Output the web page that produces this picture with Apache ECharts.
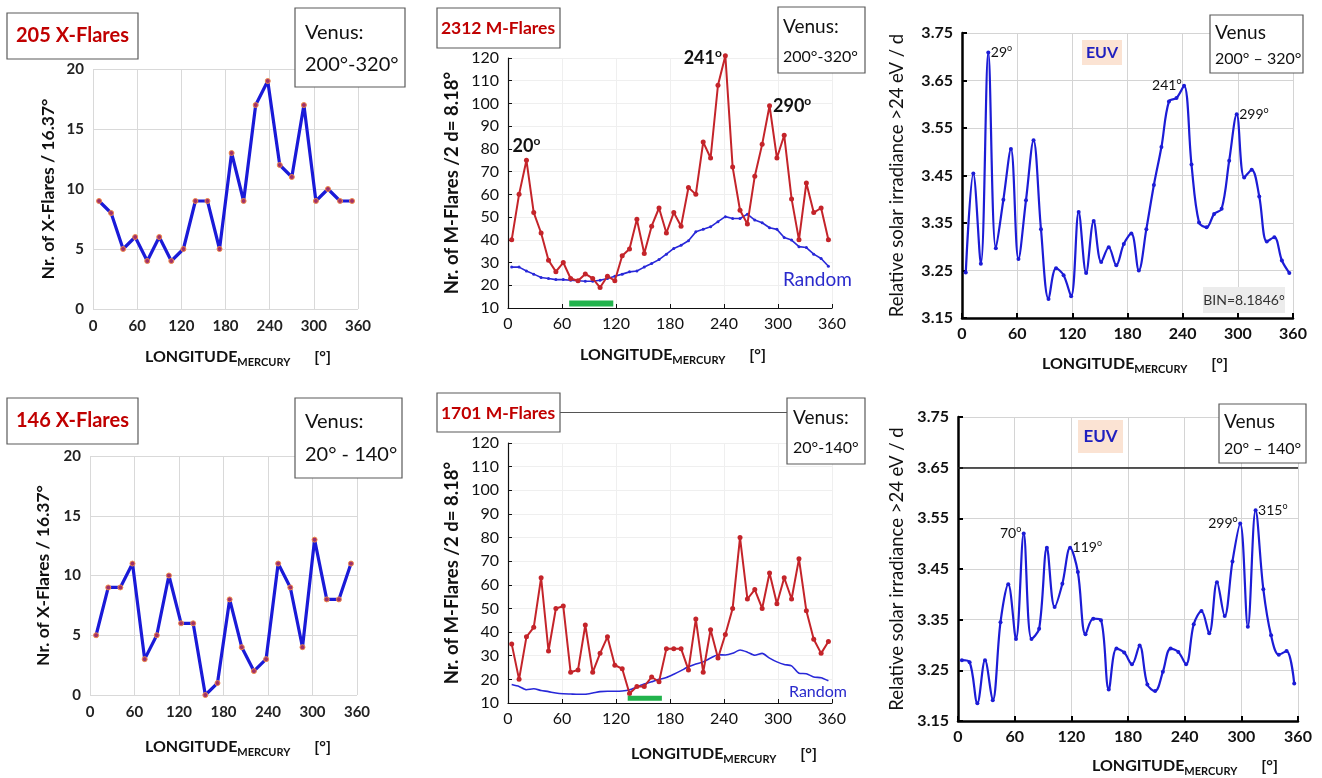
<!DOCTYPE html>
<html>
<head>
<meta charset="utf-8">
<title>Flares and EUV vs Mercury longitude</title>
<script src="https://cdn.jsdelivr.net/npm/echarts@6/dist/echarts.min.js"></script>
<style>
  html, body { margin: 0; padding: 0; background: #fff; }
  #chart { width: 1322px; height: 778px; }
</style>
</head>
<body>
<div id="chart"></div>
<script>
// bin centres (degrees of Mercury longitude)
const lonX = [8.2, 24.6, 40.9, 57.3, 73.7, 90.0, 106.4, 122.8, 139.1, 155.5, 171.9,
  188.3, 204.6, 221.0, 237.4, 253.7, 270.1, 286.5, 302.8, 319.2, 335.6, 351.9];
const lonM = [4.1, 12.3, 20.5, 28.6, 36.8, 45.0, 53.2, 61.4, 69.6, 77.8, 85.9,
  94.1, 102.3, 110.5, 118.7, 126.9, 135.0, 143.2, 151.4, 159.6, 167.8, 176.0,
  184.2, 192.3, 200.5, 208.7, 216.9, 225.1, 233.3, 241.5, 249.6, 257.8, 266.0,
  274.2, 282.4, 290.6, 298.8, 306.9, 315.1, 323.3, 331.5, 339.7, 347.9, 356.0];

// X-flares, Venus 200-320 (top) and 20-140 (bottom)
const xFlaresTop = [9, 8, 5, 6, 4, 6, 4, 5, 9, 9, 5, 13, 9, 17, 19, 12, 11, 17, 9, 10, 9, 9];
const xFlaresBottom = [5, 9, 9, 11, 3, 5, 10, 6, 6, 0, 1, 8, 4, 2, 3, 11, 9, 4, 13, 8, 8, 11];

// M-flares and random expectation
const mFlaresTop = [40, 60, 75, 52, 43, 31, 26, 30, 23, 22, 25, 23, 19, 24, 22, 33, 36, 49, 34, 46, 54, 43,
  52, 46, 63, 60, 83, 76, 108, 121, 72, 53, 47, 68, 82, 99, 76, 86, 58, 40, 65, 52, 54, 40];
const randomTop = [28, 28, 26.3, 24.9, 23.4, 23, 22.5, 22.5, 22.2, 22, 21.8, 21.8, 22.2, 23, 24, 24.9,
  25.9, 26.3, 28, 29.6, 31.3, 33.7, 36.2, 37.6, 39.6, 43.5, 44.6, 45.7, 48, 50.2, 49.4, 49.4, 51.3,
  48.7, 47.5, 45.3, 44.6, 41, 39.9, 37, 36.6, 33.7, 31.8, 28.4];
const mFlaresBottom = [35, 20, 38, 42, 63, 32, 50, 51, 23, 24, 43, 23, 31, 38, 26, 24.5, 14, 17, 17, 21, 19, 33,
  33, 33, 24, 45.5, 23, 41, 29, 39, 50, 80, 54, 58, 50, 65, 52, 63, 54, 71, 49, 37, 31, 36];
const randomBottom = [17.8, 17, 15.6, 16, 15.3, 14.8, 14.2, 13.9, 13.8, 13.7, 13.7, 14.2, 14.8, 15, 15,
  15.1, 15.6, 16.8, 18, 19, 20, 20.8, 22.2, 23.7, 25.3, 26.5, 27.4, 29, 30.4, 30.3, 31, 32.4, 31.5,
  30.2, 31, 29, 27.4, 26.3, 25.7, 22.6, 22.4, 21, 20.7, 19.4];
// green bars (longitude range, level)
const greenTop = [68, 117];
const greenBottom = [133, 171];
const greenLevel = 12;

// EUV irradiance
const euvTop = [3.246, 3.454, 3.264, 3.709, 3.297, 3.399, 3.506, 3.274, 3.398, 3.524, 3.337, 3.19,
  3.255, 3.24, 3.196, 3.373, 3.245, 3.354, 3.268, 3.299, 3.261, 3.306, 3.328, 3.25, 3.337, 3.43,
  3.51, 3.606, 3.613, 3.639, 3.473, 3.351, 3.341, 3.369, 3.38, 3.481, 3.579, 3.446, 3.462, 3.406,
  3.311, 3.32, 3.271, 3.245];
const euvBottom = [3.27, 3.266, 3.185, 3.27, 3.191, 3.345, 3.42, 3.312, 3.52, 3.312, 3.332, 3.492,
  3.375, 3.421, 3.492, 3.444, 3.321, 3.352, 3.349, 3.212, 3.293, 3.285, 3.262, 3.299, 3.222, 3.209,
  3.247, 3.293, 3.286, 3.262, 3.341, 3.367, 3.323, 3.424, 3.357, 3.465, 3.54, 3.336, 3.566, 3.41,
  3.319, 3.281, 3.288, 3.224];

// peak annotations: index into lonM, label text
const mTopPeaks = [[2, '20'], [29, '241'], [35, '290']];
const euvTopPeaks = [[3, '29'], [29, '241'], [36, '299']];
const euvBottomPeaks = [[8, '70'], [14, '119'], [36, '299'], [38, '315']];

const FONT = 'Lato';
const pair = (xs, ys) => xs.map((x, i) => [x, ys[i]]);

const grids = [
  { left: 93, top: 69, width: 265, height: 240 },
  { left: 508, top: 58, width: 324, height: 250 },
  { left: 962, top: 33, width: 331, height: 285 },
  { left: 90, top: 456, width: 267, height: 239 },
  { left: 508, top: 443, width: 324, height: 260 },
  { left: 958, top: 417, width: 340, height: 304 }
].map(g => Object.assign({ outerBoundsMode: 'none', containLabel: false }, g));

const styles = {
  excel: {
    axisLine: { show: false }, axisTick: { show: false },
    splitLine: { show: true, lineStyle: { color: '#d9d9d9', width: 1 } },
    axisLabel: { color: '#222', fontFamily: FONT, fontWeight: 'bold', fontSize: 15 }
  },
  mflare: {
    axisLine: { show: true, lineStyle: { color: '#111', width: 1.2 } },
    axisTick: { show: true, inside: true, length: 4, lineStyle: { color: '#111' } },
    splitLine: { show: true, lineStyle: { color: '#efefef', width: 1 } },
    axisLabel: { color: '#111', fontFamily: FONT, fontSize: 16 }
  },
  euv: {
    axisLine: { show: true, lineStyle: { color: '#000', width: 2.5 } },
    axisTick: { show: true, inside: true, length: 5, lineStyle: { color: '#000', width: 2 } },
    splitLine: { show: true, lineStyle: { color: '#d4d4d4', width: 1 } },
    axisLabel: { color: '#111', fontFamily: FONT, fontWeight: 'bold', fontSize: 16 }
  }
};

function xAxis(gi, st, margin) {
  const s = styles[st];
  return {
    type: 'value', gridIndex: gi, min: 0, max: 360, interval: 60,
    axisLine: s.axisLine, axisTick: s.axisTick, splitLine: s.splitLine,
    axisLabel: Object.assign({ margin: margin }, s.axisLabel)
  };
}
function yAxis(gi, st, min, max, interval, name, gap, nameStyle, fmt) {
  const s = styles[st];
  return {
    type: 'value', gridIndex: gi, min: min, max: max, interval: interval,
    axisLine: s.axisLine, axisTick: s.axisTick, splitLine: s.splitLine,
    axisLabel: Object.assign({ margin: 9, formatter: fmt }, s.axisLabel),
    name: name, nameLocation: 'middle', nameGap: gap,
    nameTextStyle: Object.assign({ color: '#111', fontFamily: FONT }, nameStyle)
  };
}

const supRich = (size, weight) => ({
  n: { fontSize: size, fontWeight: weight, fontFamily: FONT, color: '#111', lineHeight: size + 4 },
  s: { fontSize: Math.round(size * 0.65), fontWeight: weight, fontFamily: FONT, color: '#111',
       lineHeight: Math.round(size * 0.65), verticalAlign: 'top' }
});

// label anchor is kept inside the axis range (yMax) so the marker is not filtered out
function peakMarks(peaks, ys, positions, size, weight, dist, yMax) {
  return {
    symbol: 'circle', symbolSize: 1, silent: true,
    itemStyle: { color: 'rgba(0,0,0,0)' },
    data: peaks.map((p, k) => ({
      coord: [lonM[p[0]], Math.min(ys[p[0]], yMax)],
      label: {
        show: true, position: positions[k], distance: dist,
        formatter: '{n|' + p[1] + '}{s|o}', rich: supRich(size, weight)
      }
    }))
  };
}

const series = [
  // top-left X-flares
  { type: 'line', xAxisIndex: 0, yAxisIndex: 0, data: pair(lonX, xFlaresTop),
    symbol: 'circle', symbolSize: 5,
    lineStyle: { color: '#1a1ad8', width: 3.2 },
    itemStyle: { color: '#a0306a', borderColor: '#f08a4a', borderWidth: 1 } },
  // bottom-left X-flares
  { type: 'line', xAxisIndex: 3, yAxisIndex: 3, data: pair(lonX, xFlaresBottom),
    symbol: 'circle', symbolSize: 5,
    lineStyle: { color: '#1a1ad8', width: 3.2 },
    itemStyle: { color: '#a0306a', borderColor: '#f08a4a', borderWidth: 1 } },
  // top-middle random + M-flares
  { type: 'line', xAxisIndex: 1, yAxisIndex: 1, data: pair(lonM, randomTop),
    symbol: 'circle', symbolSize: 3, z: 2,
    lineStyle: { color: '#2828d8', width: 1.6 }, itemStyle: { color: '#2828d8' } },
  { type: 'line', xAxisIndex: 1, yAxisIndex: 1, data: pair(lonM, mFlaresTop),
    symbol: 'circle', symbolSize: 5, z: 3, clip: false,
    lineStyle: { color: '#c4242a', width: 2 }, itemStyle: { color: '#c4242a' },
    markPoint: peakMarks(mTopPeaks, mFlaresTop, ['top', 'left', 'right'], 18, 'bold', 3, 120) },
  { type: 'line', xAxisIndex: 1, yAxisIndex: 1, data: greenTop.map(x => [x, greenLevel]),
    symbol: 'none', z: 4, lineStyle: { color: '#22b34c', width: 6 } },
  // bottom-middle
  { type: 'line', xAxisIndex: 4, yAxisIndex: 4, data: pair(lonM, randomBottom),
    showSymbol: false, z: 2, smooth: 0.2,
    lineStyle: { color: '#2828d8', width: 1.6 } },
  { type: 'line', xAxisIndex: 4, yAxisIndex: 4, data: pair(lonM, mFlaresBottom),
    symbol: 'circle', symbolSize: 5, z: 3,
    lineStyle: { color: '#c4242a', width: 2 }, itemStyle: { color: '#c4242a' } },
  { type: 'line', xAxisIndex: 4, yAxisIndex: 4, data: greenBottom.map(x => [x, greenLevel]),
    symbol: 'none', z: 4, lineStyle: { color: '#22b34c', width: 5 } },
  // EUV top
  { type: 'line', xAxisIndex: 2, yAxisIndex: 2, data: pair(lonM, euvTop),
    smooth: 0.35, symbol: 'circle', symbolSize: 4,
    lineStyle: { color: '#1c1cd6', width: 2.2 }, itemStyle: { color: '#1c1cd6' },
    markPoint: peakMarks(euvTopPeaks, euvTop, ['right', 'left', 'right'], 14, 'normal', 2, 3.75) },
  // EUV bottom
  { type: 'line', xAxisIndex: 5, yAxisIndex: 5, data: pair(lonM, euvBottom),
    smooth: 0.35, symbol: 'circle', symbolSize: 4,
    lineStyle: { color: '#1c1cd6', width: 2.2 }, itemStyle: { color: '#1c1cd6' },
    markPoint: peakMarks(euvBottomPeaks, euvBottom, ['left', 'right', 'left', 'right'], 14, 'normal', 2, 3.75),
    markLine: { silent: true, symbol: 'none', label: { show: false },
      lineStyle: { color: '#222', width: 1.5, type: 'solid' }, data: [{ yAxis: 3.65 }] } }
];

// boxes, annotations and x-axis titles
function rect(x, y, w, h, fill, stroke) {
  return { type: 'rect', z: 100, shape: { x: x, y: y, width: w, height: h },
    style: { fill: fill, stroke: stroke || '#5a5a5a', lineWidth: stroke === 'none' ? 0 : 1.2 } };
}
function text(x, y, str, size, weight, color, align) {
  return { type: 'text', z: 101, x: x, y: y,
    style: { text: str, fontSize: size, fontWeight: weight, fontFamily: FONT, fill: color,
      align: align || 'left', textAlign: align || 'left', verticalAlign: 'middle', textVerticalAlign: 'middle' } };
}
const lonRich = {
  a: { fontSize: 16, fontWeight: 'bold', fontFamily: FONT, fill: '#111', color: '#111', lineHeight: 22 },
  b: { fontSize: 11, fontWeight: 'bold', fontFamily: FONT, fill: '#111', color: '#111', lineHeight: 11, verticalAlign: 'bottom' },
  c: { fontSize: 16, fontWeight: 'bold', fontFamily: FONT, fill: '#111', color: '#111', lineHeight: 22, padding: [0, 0, 0, 24] }
};
function lonTitle(x, y) {
  return { type: 'text', z: 101, x: x, y: y,
    style: { text: '{a|LONGITUDE}{b|MERCURY}{c|[°]}', rich: lonRich,
      align: 'left', textAlign: 'left', verticalAlign: 'middle', textVerticalAlign: 'middle' } };
}

const RED = '#c00000';
const graphic = [
  // top-left
  rect(7, 13, 131, 46, '#fff'), text(72.5, 36, '205 X-Flares', 20, 'bold', RED, 'center'),
  rect(295, 8, 110, 79, '#fff'), text(305, 33, 'Venus:', 20, 'normal', '#111'),
  text(305, 65, '200°-320°', 20, 'normal', '#111'),
  lonTitle(145, 357),
  // bottom-left
  rect(7, 398, 131, 46, '#fff'), text(72.5, 421, '146 X-Flares', 20, 'bold', RED, 'center'),
  rect(295, 398, 107, 80, '#fff'), text(305, 422, 'Venus:', 20, 'normal', '#111'),
  text(305, 455, '20° - 140°', 20, 'normal', '#111'),
  lonTitle(145, 747),
  // top-middle
  rect(437, 8, 123, 40, '#fff'), text(498, 28, '2312 M-Flares', 17.5, 'bold', RED, 'center'),
  rect(778, 7, 87, 66, '#fff'), text(783, 27, 'Venus:', 19, 'normal', '#111'),
  text(783, 57, '200°-320°', 16, 'normal', '#111'),
  text(783, 280, 'Random', 19, 'normal', '#2a2acc'),
  lonTitle(580, 355),
  // bottom-middle
  { type: 'line', z: 99, shape: { x1: 560, y1: 412.5, x2: 787, y2: 412.5 }, style: { stroke: '#555', lineWidth: 1.2 } },
  rect(437, 393, 123, 39, '#fff'), text(498, 413, '1701 M-Flares', 17.5, 'bold', RED, 'center'),
  rect(787, 398, 78, 66, '#fff'), text(793, 418, 'Venus:', 19, 'normal', '#111'),
  text(793, 448, '20°-140°', 16, 'normal', '#111'),
  text(789, 692, 'Random', 16, 'normal', '#2a2acc'),
  lonTitle(631, 754),
  // top-right
  rect(1082, 40, 40, 25, '#fbe3d3', 'none'), text(1102, 52.5, 'EUV', 16, 'bold', '#1f1fbf', 'center'),
  rect(1210, 15, 93, 58, '#fff'), text(1215, 33, 'Venus', 19, 'normal', '#111'),
  text(1215, 59, '200° – 320°', 16, 'normal', '#111'),
  rect(1203, 287, 82, 26, '#ececec', 'none'), text(1244, 300, 'BIN=8.1846°', 14, 'normal', '#333', 'center'),
  lonTitle(1042, 364),
  // bottom-right
  rect(1078, 420, 45, 33, '#fbe3d3', 'none'), text(1100.5, 436.5, 'EUV', 17, 'bold', '#1f1fbf', 'center'),
  rect(1219, 404, 87, 59, '#fff'), text(1224, 422, 'Venus', 19, 'normal', '#111'),
  text(1224, 449, '20° – 140°', 16, 'normal', '#111'),
  lonTitle(1092, 766)
];

const eFmt = v => v.toFixed(2);
const option = {
  animation: false,
  backgroundColor: '#fff',
  grid: grids,
  xAxis: [
    xAxis(0, 'excel', 10), xAxis(1, 'mflare', 8), xAxis(2, 'euv', 8),
    xAxis(3, 'excel', 10), xAxis(4, 'mflare', 8), xAxis(5, 'euv', 8)
  ],
  yAxis: [
    yAxis(0, 'excel', 0, 20, 5, 'Nr. of X-Flares / 16.37°', 36, { fontSize: 17.5, fontWeight: 'bold' }),
    yAxis(1, 'mflare', 10, 120, 10, 'Nr. of M-Flares /2 d= 8.18°', 46, { fontSize: 18.5, fontWeight: 'bold' }),
    yAxis(2, 'euv', 3.15, 3.75, 0.1, 'Relative solar irradiance >24 eV / d', 55, { fontSize: 18.5 }, eFmt),
    yAxis(3, 'excel', 0, 20, 5, 'Nr. of X-Flares / 16.37°', 38, { fontSize: 17.5, fontWeight: 'bold' }),
    yAxis(4, 'mflare', 10, 120, 10, 'Nr. of M-Flares /2 d= 8.18°', 46, { fontSize: 18.5, fontWeight: 'bold' }),
    yAxis(5, 'euv', 3.15, 3.75, 0.1, 'Relative solar irradiance >24 eV / d', 51, { fontSize: 18.5 }, eFmt)
  ],
  series: series,
  graphic: graphic
};

const chart = echarts.init(document.getElementById('chart'), null, { renderer: 'canvas' });
chart.setOption(option);
</script>
</body>
</html>
